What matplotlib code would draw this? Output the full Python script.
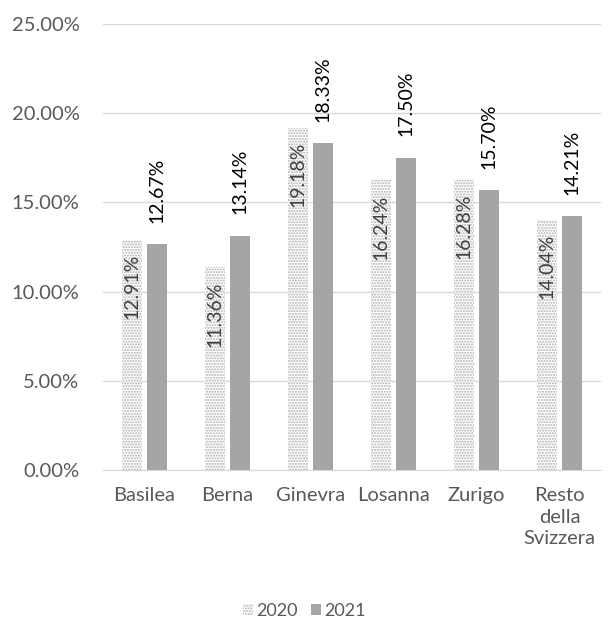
import numpy as np
import matplotlib.pyplot as plt
from matplotlib.patches import Patch

categories = ['Basilea', 'Berna', 'Ginevra', 'Losanna', 'Zurigo', 'Resto\ndella\nSvizzera']
vals_2020 = [12.91, 11.36, 19.18, 16.24, 16.28, 14.04]
vals_2021 = [12.67, 13.14, 18.33, 17.50, 15.70, 14.21]

plt.rcParams['font.family'] = ['Lato', 'DejaVu Sans']
plt.rcParams['hatch.linewidth'] = 1.0

fig = plt.figure(figsize=(6.09, 6.28), dpi=100)
ax = fig.add_axes([103 / 609, 1 - 470 / 628, 498 / 609, 446 / 628])

x = np.arange(len(categories))
w = 0.24
gap = 0.03
ax.bar(x - w / 2 - gap, vals_2020, w, facecolor='white', edgecolor='#b0b0b0',
       hatch='......', linewidth=0, zorder=2)
ax.bar(x + w / 2 + gap, vals_2021, w, color='#a5a5a5', zorder=2)

for xi, v in zip(x, vals_2020):
    ax.text(xi - w / 2 - gap, v - 0.8, f'{v:.2f}%', rotation=90, ha='center', va='top',
            fontsize=14, color='#404040', zorder=3)
for xi, v in zip(x, vals_2021):
    ax.text(xi + w / 2 + gap, v + 1.2, f'{v:.2f}%', rotation=90, ha='center', va='bottom',
            fontsize=14, color='#000000', zorder=3)

ax.set_ylim(0, 25)
ax.set_xlim(-0.5, len(categories) - 0.5)
ax.set_yticks(np.arange(0, 25.1, 5))
ax.set_yticklabels([f'{t:.2f}%' for t in np.arange(0, 25.1, 5)])
ax.set_xticks(x)
ax.set_xticklabels(categories, linespacing=1.35)
ax.tick_params(axis='both', length=0, labelsize=14.5, labelcolor='#595959')
ax.tick_params(axis='x', pad=12)
ax.tick_params(axis='y', pad=17)
ax.grid(axis='y', color='#d9d9d9', linewidth=1, zorder=0)
for s in ['top', 'right', 'left']:
    ax.spines[s].set_visible(False)
ax.spines['bottom'].set_color('#d9d9d9')

handles = [Patch(facecolor='white', edgecolor='#b0b0b0', hatch='......', linewidth=0),
           Patch(facecolor='#a5a5a5')]
fig.legend(handles, ['2020', '2021'], loc='center', bbox_to_anchor=(0.5, 1 - 611 / 628),
           ncol=2, frameon=False, fontsize=13, labelcolor='#595959',
           handlelength=0.55, handleheight=0.55, handletextpad=0.2, columnspacing=0.7)

fig.savefig('out.png', dpi=100)
